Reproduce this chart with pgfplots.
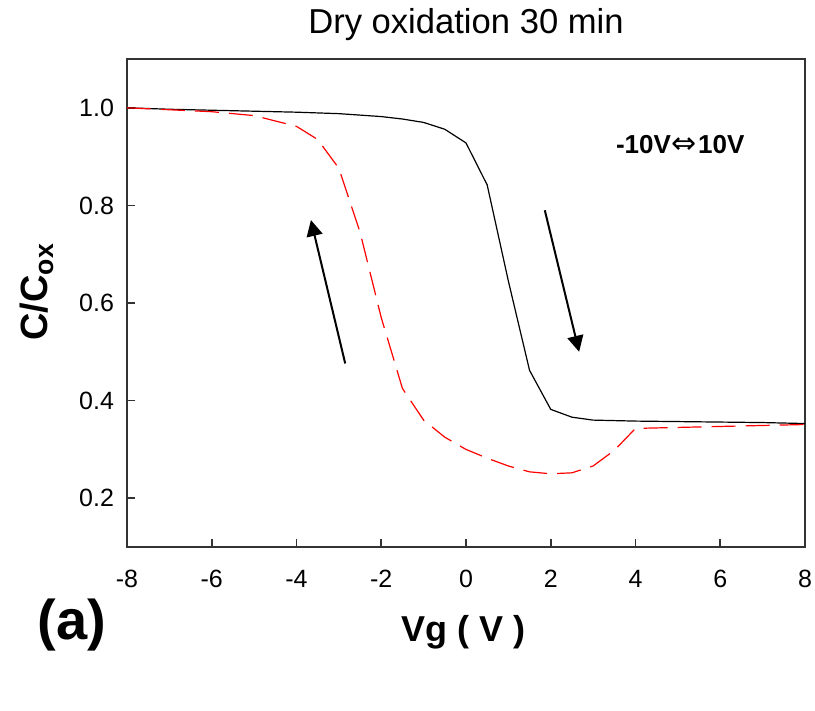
\documentclass[border=0pt]{standalone}
\usepackage{pgfplots}
\pgfplotsset{compat=1.18}
\usepackage{fontspec}
\setmainfont{Liberation Sans}
\newfontfamily\dejavu{DejaVu Sans}
\usetikzlibrary{arrows.meta}
\begin{document}
\begin{tikzpicture}[x=1pt,y=1pt]
\useasboundingbox (-63.5,-82) rectangle (344,273.5);
\begin{axis}[at={(0,0)},anchor=south west, scale only axis,
 width=339pt, height=244pt,
 xmin=-8,xmax=8,ymin=0.1,ymax=1.1,
 xtick={-8,-6,-4,-2,0,2,4,6,8}, ytick={0.2,0.4,0.6,0.8,1.0},
 yticklabel style={/pgf/number format/fixed,/pgf/number format/fixed zerofill,/pgf/number format/precision=1,xshift=-3pt},
 xticklabel style={yshift=-8pt},
 /pgf/number format/assume math mode=true,
 xtick pos=bottom, ytick pos=left, tick align=inside, major tick length=4pt,
 axis line style={line width=0.8pt, black!80},
 every tick/.style={line width=0.8pt, black!80},
 ticklabel style={font=\fontsize{12.5}{14}\selectfont},
 clip=false,
]
\addplot[black, line width=0.6pt] coordinates {
(-8,1.000) (-7,0.997) (-6,0.995) (-5,0.993) (-4,0.991) (-3,0.988) (-2,0.982)
(-1.5,0.977) (-1,0.970) (-0.5,0.956) (0,0.928) (0.5,0.842) (1,0.645) (1.5,0.462)
(2,0.382) (2.5,0.366) (3,0.360) (4,0.358) (5,0.357) (6,0.356) (7,0.355) (8,0.353)
};
\addplot[red, line width=0.6pt, dash pattern=on 12pt off 5pt] coordinates {
(-8,1.000) (-7,0.996) (-6,0.992) (-5,0.984) (-4,0.962) (-3.5,0.935) (-3,0.876)
(-2.5,0.745) (-2,0.570) (-1.5,0.425) (-1,0.360) (-0.5,0.325) (0,0.300) (0.5,0.282)
(1,0.266) (1.5,0.254) (2,0.250) (2.5,0.252) (3,0.266) (3.5,0.298) (4,0.343)
(5,0.345) (6,0.347) (7,0.349) (8,0.351)
};
\draw[line width=1pt, -{Triangle[length=8pt,width=8pt]}] (axis cs:-2.85,0.476) -- (axis cs:-3.66,0.770);
\draw[line width=1pt, -{Triangle[length=8pt,width=8pt]}] (axis cs:1.86,0.790) -- (axis cs:2.67,0.500);
\node[font=\fontsize{13}{15}\selectfont\bfseries] at (rel axis cs:0.816,0.824) {-10V\hspace{0.5pt}{\dejavu\mdseries\fontsize{15}{15}\selectfont ⇔}\hspace{0.5pt}10V};
\node[font=\fontsize{17.3}{20}\selectfont] at (rel axis cs:0.5,1.07) {Dry oxidation 30 min};
\node[font=\fontsize{18}{21}\selectfont\bfseries] at (rel axis cs:0.496,-0.174) {Vg ( V )};
\node[font=\fontsize{28}{32}\selectfont\bfseries] at (rel axis cs:-0.081,-0.16) {(a)};
\node[font=\fontsize{19}{22}\selectfont\bfseries, rotate=90] at (rel axis cs:-0.133,0.523) {C/C$_{\mathbf{ox}}$};
\end{axis}
\end{tikzpicture}
\end{document}
